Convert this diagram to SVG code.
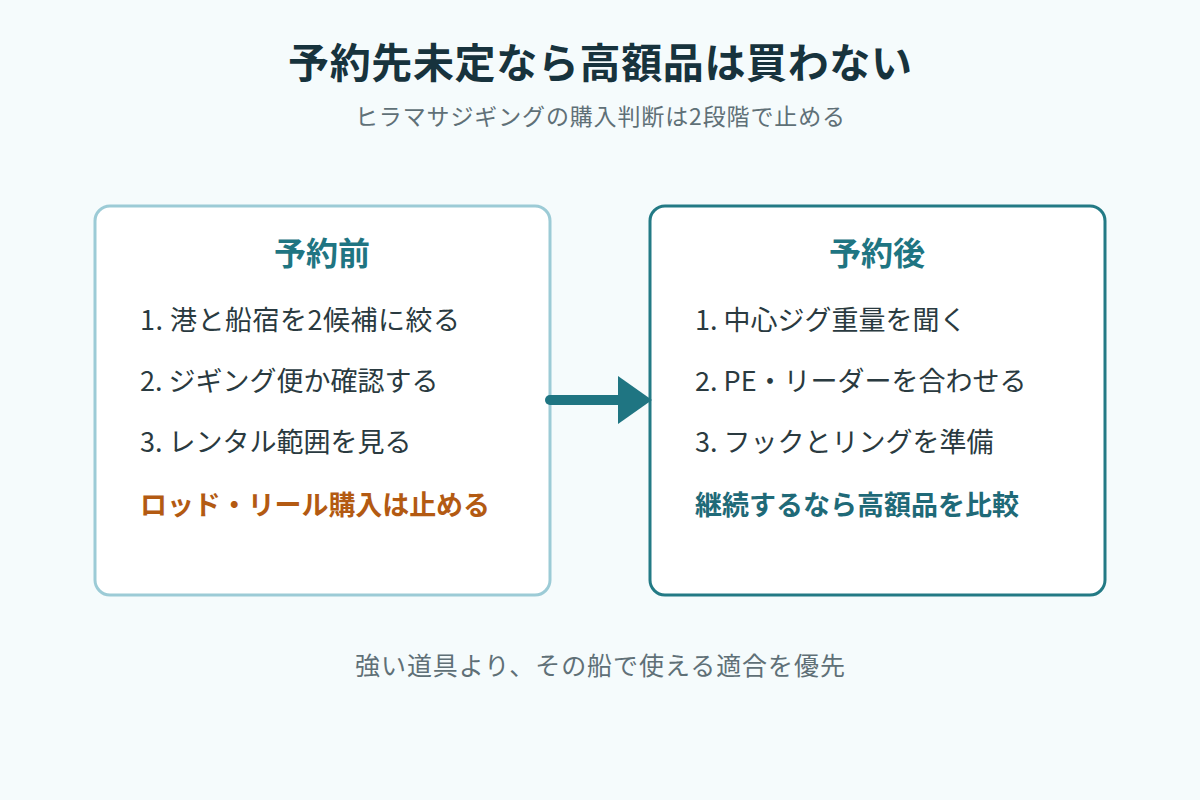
<svg xmlns="http://www.w3.org/2000/svg" width="1200" height="800" viewBox="0 0 1200 800">
<style>
text{font-family:"Noto Sans CJK JP","Noto Sans",sans-serif}
.t{font-size:41px;font-weight:700;fill:#17333d;text-anchor:middle}
.s{font-size:23px;fill:#5f7077;text-anchor:middle}
.b{font-size:25px;fill:#5f7077;text-anchor:middle}
.h{font-size:32px;font-weight:700;fill:#1f7582;text-anchor:middle}
.i{font-size:27px;fill:#2a3a40}
.o{font-size:27px;font-weight:700;fill:#b35a12}
.g{font-size:27px;font-weight:700;fill:#1f6a78}
</style>
<rect width="1200" height="800" fill="#f5fbfc"/>
<text class="t" x="600" y="78" textLength="624">予約先未定なら高額品は買わない</text>
<text class="s" x="600" y="125" textLength="490">ヒラマサジギングの購入判断は2段階で止める</text>
<g id="before">
<rect x="95" y="206" width="455" height="389" rx="15" fill="#fff" stroke="#9ccbd6" stroke-width="3"/>
<text class="h" x="322" y="265">予約前</text>
<text class="i" x="140" y="330" textLength="320">1. 港と船宿を2候補に絞る</text>
<text class="i" x="140" y="391">2. ジギング便か確認する</text>
<text class="i" x="140" y="452">3. レンタル範囲を見る</text>
<text class="o" x="140" y="515" textLength="350">ロッド・リール購入は止める</text>
</g>
<g id="after">
<rect x="650" y="206" width="455" height="389" rx="15" fill="#fff" stroke="#237a85" stroke-width="3"/>
<text class="h" x="877" y="265">予約後</text>
<text class="i" x="695" y="330">1. 中心ジグ重量を聞く</text>
<text class="i" x="695" y="391">2. PE・リーダーを合わせる</text>
<text class="i" x="695" y="452">3. フックとリングを準備</text>
<text class="g" x="695" y="515">継続するなら高額品を比較</text>
</g>
<g id="connectors">
<line x1="550" y1="400" x2="625" y2="400" stroke="#1f7582" stroke-width="10" stroke-linecap="round"/>
<polygon points="618,376 652,400 618,424" fill="#1f7582"/>
</g>
<text class="b" x="600" y="675" textLength="490">強い道具より、その船で使える適合を優先</text>
</svg>
